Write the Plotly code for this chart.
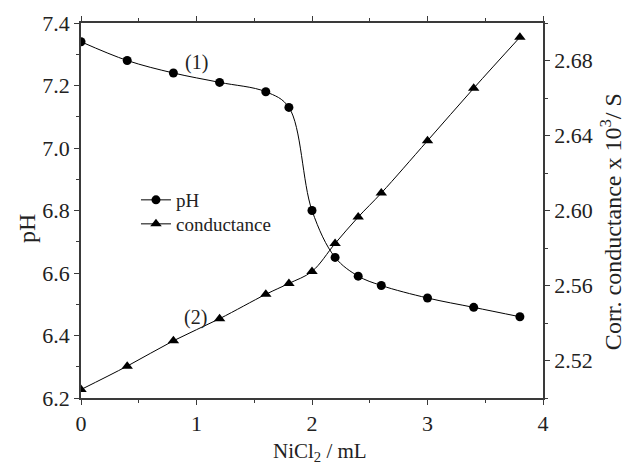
import plotly.graph_objects as go

volume = [0, 0.4, 0.8, 1.2, 1.6, 1.8, 2.0, 2.2, 2.4, 2.6, 3.0, 3.4, 3.8]
ph = [7.34, 7.28, 7.24, 7.21, 7.18, 7.13, 6.80, 6.65, 6.59, 6.56, 6.52, 6.49, 6.46]
conductance = [2.5045, 2.517, 2.5305, 2.5423, 2.5553, 2.5611, 2.5675, 2.5824,
               2.5965, 2.6093, 2.6372, 2.6652, 2.6924]

FONT = "Liberation Serif"
AX = "#3a3a3a"
TXT = "#222222"

fig = go.Figure()
fig.add_trace(go.Scatter(
    x=volume, y=ph, name="pH", mode="lines+markers",
    line=dict(color="black", width=1, shape="spline", smoothing=1.0),
    marker=dict(symbol="circle", size=9, color="black"),
    yaxis="y", legend="legend"))
fig.add_trace(go.Scatter(
    x=volume, y=conductance, name="conductance", mode="lines+markers",
    line=dict(color="black", width=1, shape="spline", smoothing=1.0),
    marker=dict(symbol="triangle-up", size=10, color="black"),
    yaxis="y2", legend="legend2"))

legend_style = dict(xanchor="left", yanchor="middle", bgcolor="rgba(0,0,0,0)",
                    font=dict(size=19, family=FONT, color=TXT), itemwidth=30)

fig.update_layout(
    width=625, height=466,
    margin=dict(l=81, r=82, t=23, b=68, autoexpand=False),
    paper_bgcolor="white", plot_bgcolor="white",
    font=dict(family=FONT, size=22, color=TXT),
    showlegend=True,
    legend=dict(x=0.119, y=0.528, **legend_style),
    legend2=dict(x=0.119, y=0.464, **legend_style),
    xaxis=dict(range=[0, 4], tickvals=[0, 1, 2, 3, 4], ticks="outside",
               ticklen=5, tickwidth=1, tickcolor=AX,
               minor=dict(dtick=0.5, ticks="outside", ticklen=3, tickcolor=AX),
               showline=True, linecolor=AX, linewidth=1.5, mirror="ticks",
               showgrid=False, zeroline=False, automargin=False),
    yaxis=dict(range=[6.2, 7.4], dtick=0.2, tick0=6.2, tickformat=".1f",
               ticks="outside", ticklen=5, tickwidth=1, tickcolor=AX,
               minor=dict(dtick=0.1, ticks="outside", ticklen=3, tickcolor=AX),
               showline=True, linecolor=AX, linewidth=1.5,
               showgrid=False, zeroline=False, automargin=False),
    yaxis2=dict(range=[2.50, 2.70], overlaying="y", side="right",
                tickvals=[2.52, 2.56, 2.60, 2.64, 2.68], tickformat=".2f",
                ticks="outside", ticklen=5, tickwidth=1, tickcolor=AX,
                minor=dict(tickvals=[2.50, 2.54, 2.58, 2.62, 2.66, 2.70],
                           ticks="outside", ticklen=3, tickcolor=AX),
                showline=True, linecolor=AX, linewidth=1.5,
                showgrid=False, zeroline=False, automargin=False),
    annotations=[
        dict(x=1.0, y=7.275, xref="x", yref="y", text="(1)", showarrow=False,
             font=dict(size=20, family=FONT, color=TXT)),
        dict(x=0.99, y=6.457, xref="x", yref="y", text="(2)", showarrow=False,
             font=dict(size=20, family=FONT, color=TXT)),
        dict(x=0, y=0.4507, xref="paper", yref="paper", xshift=-54,
             text="pH", textangle=-90, showarrow=False,
             xanchor="center", yanchor="middle",
             font=dict(size=24, family=FONT, color=TXT)),
        dict(x=1, y=0.469, xref="paper", yref="paper", xshift=68,
             text="Corr. conductance x 10<sup>3</sup>/ S", textangle=-90,
             showarrow=False, xanchor="center", yanchor="middle",
             font=dict(size=24, family=FONT, color=TXT)),
        dict(x=0.517, y=0, xref="paper", yref="paper", yshift=-54,
             text="NiCl<sub>2</sub> / mL", showarrow=False,
             xanchor="center", yanchor="middle",
             font=dict(size=21, family=FONT, color=TXT)),
    ],
)

fig.write_html(
    "out.html",
    config={"displayModeBar": False},
    post_script="document.body.style.margin='0';document.body.style.padding='0';",
)
